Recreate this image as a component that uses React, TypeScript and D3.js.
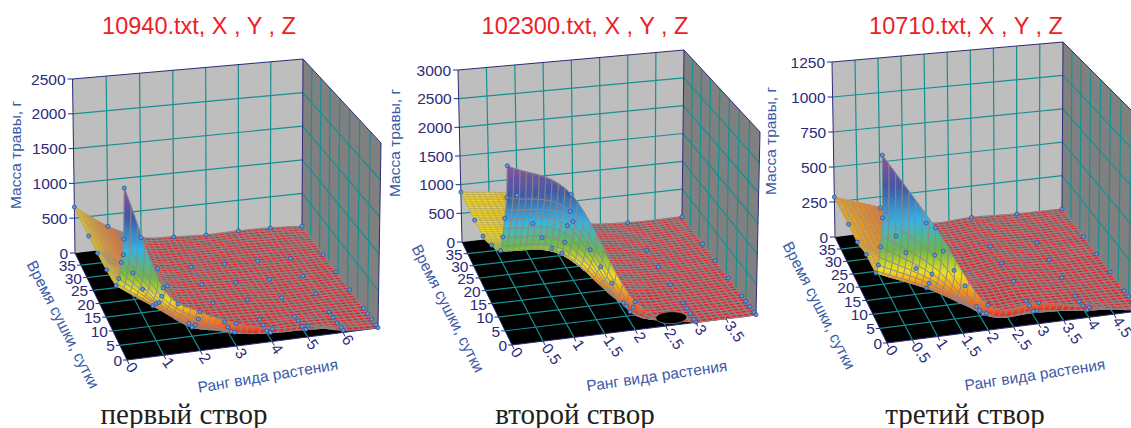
import React, { useRef, useEffect } from "react";
import * as d3 from "d3";

// drying time rows of the measured lattice, days
const dryingDays = [0, 1, 3, 5, 7, 14, 21, 28, 40];
const dayTicks = [0, 5, 10, 15, 20, 25, 30, 35];

const ranks1 = [0, 1, 2, 3, 4, 5, 6, 7];
const ranks2 = [0, 1, 2, 3, 4];
const ranks3 = [0, 1, 2, 3, 4, 5];

const rankTicks1 = [0, 1, 2, 3, 4, 5, 6];
const rankTicks2 = [0, 0.5, 1, 1.5, 2, 2.5, 3, 3.5];
const rankTicks3 = [0, 0.5, 1, 1.5, 2, 2.5, 3, 3.5, 4, 4.5];

const massTicks1 = [0, 500, 1000, 1500, 2000, 2500];
const massTicks2 = [0, 500, 1000, 1500, 2000, 2500, 3000];
const massTicks3 = [0, 250, 500, 750, 1000, 1250];

// mass per drying row (same order as dryingDays), one value per rank
const mass1 = [
  [2240, 880, 510, 300, 170, 145, 30, 5],
  [1540, 735, 380, 145, 80, 65, 30, 5],
  [1165, 580, 225, 80, 30, 30, 15, 5],
  [880, 490, 120, 65, 30, 30, 15, 5],
  [715, 390, 95, 55, 30, 15, 15, 5],
  [675, 355, 100, 55, 40, 10, 10, 5],
  [655, 330, 95, 55, 30, 15, 5, 5],
  [650, 335, 85, 50, 40, 25, 10, 5],
  [660, 330, 115, 70, 45, 50, 40, 10],
];

const mass2 = [
  [2830, 2280, 450, 5, 5],
  [2290, 1970, 320, 8, 5],
  [1880, 1660, 160, 8, 5],
  [1500, 1310, 160, 8, 5],
  [1200, 1050, 130, 8, 5],
  [1000, 840, 150, 8, 5],
  [865, 730, 130, 8, 5],
  [855, 690, 130, 8, 5],
  [870, 710, 140, 8, 5],
];

const mass3 = [
  [1180, 690, 160, 135, 65, 5],
  [770, 500, 90, 65, 30, 5],
  [555, 345, 50, 25, 20, 5],
  [405, 250, 35, 25, 12, 5],
  [320, 185, 25, 20, 12, 5],
  [320, 190, 35, 25, 7, 5],
  [285, 175, 15, 25, 7, 5],
  [290, 170, 25, 20, 5, 5],
  [285, 170, 20, 20, 5, 0],
];

// spot of the second surface that falls below zero: rank, day, half widths
const dip2 = [2.67, 2.6, 0.25, 2.1];

const titles = ["10940.txt, X , Y , Z", "102300.txt, X , Y , Z", "10710.txt, X , Y , Z"];
const captions = ["первый створ", "второй створ", "третий створ"];
const massLabel = "Масса травы, г";
const dayLabel = "Время сушки, сутки";
const rankLabel = "Ранг вида растения";

const colorStops = [0, 0.05, 0.1, 0.2, 0.31, 0.45, 0.62, 0.82, 1];
const colorRamp = ["#e9202a", "#ea2228", "#f15a24", "#f7941d", "#f5e61e", "#6abd45", "#33b8e8", "#3c55a5", "#8a4f9e"];

const MESH = 40;
const DAY_MAX = 40;

type Pt = [number, number];

// box corners in page pixels + where the texts sit
const panels = [
  {
    ranks: ranks1, rankTicks: rankTicks1, massTicks: massTicks1, mass: mass1, rankMax: 7, massMax: 2500, peak: 2240,
    floor: { fl: [127, 360], fr: [378, 328], bl: [75, 253], br: [302, 227] },
    top: { fl: [124, 168], fr: [381, 143], bl: [72.5, 79], br: [303, 59] },
    title: [199, 34], caption: [184, 424], massAt: [17, 155], dayAt: [62, 325], dayAngle: 63, rankAt: [268, 377], rankAngle: -9.5, dip: null,
  },
  {
    ranks: ranks2, rankTicks: rankTicks2, massTicks: massTicks2, mass: mass2, rankMax: 4, massMax: 3000, peak: 2830,
    floor: { fl: [512, 345], fr: [756, 315], bl: [462, 242], br: [682, 217] },
    top: { fl: [507, 155], fr: [760, 132], bl: [458, 70], br: [684, 50] },
    title: [585, 34], caption: [575, 424], massAt: [396, 143], dayAt: [447, 309], dayAngle: 63, rankAt: [657, 377], rankAngle: -8.3, dip: dip2,
  },
  {
    ranks: ranks3, rankTicks: rankTicks3, massTicks: massTicks3, mass: mass3, rankMax: 5, massMax: 1250, peak: 1180,
    floor: { fl: [887, 343], fr: [1139, 311], bl: [835, 237], br: [1062, 209] },
    top: { fl: [882, 144], fr: [1143, 122], bl: [832, 62], br: [1063, 42] },
    title: [966, 34], caption: [965, 424], massAt: [772, 141], dayAt: [818, 306], dayAngle: 63, rankAt: [1035, 376], rankAngle: -8.7, dip: null,
  },
];

// unit square -> quad
const quadMap = (q: any) => {
  const [x0, y0] = q.fl, [x1, y1] = q.fr, [x2, y2] = q.br, [x3, y3] = q.bl;
  const dx1 = x1 - x2, dx2 = x3 - x2, sx = x0 - x1 + x2 - x3;
  const dy1 = y1 - y2, dy2 = y3 - y2, sy = y0 - y1 + y2 - y3;
  const det = dx1 * dy2 - dx2 * dy1;
  const g = (sx * dy2 - dx2 * sy) / det;
  const h = (dx1 * sy - sx * dy1) / det;
  const a = x1 - x0 + g * x1, b = x3 - x0 + h * x3;
  const d = y1 - y0 + g * y1, e = y3 - y0 + h * y3;
  return (u: number, v: number): Pt => {
    const w = g * u + h * v + 1;
    return [(a * u + b * v + x0) / w, (d * u + e * v + y0) / w];
  };
};

// cubic hermite through (xs, ys), monotone limits the slopes along the drying rows
const smooth = (xs: number[], ys: number[], monotone: boolean) => {
  const n = xs.length;
  const sec = d3.range(n - 1).map((i) => (ys[i + 1] - ys[i]) / (xs[i + 1] - xs[i]));
  const tan = xs.map((_, i) => {
    if (i === 0) return sec[0];
    if (i === n - 1) return sec[n - 2];
    if (monotone && sec[i - 1] * sec[i] <= 0) return 0;
    if (monotone) return (2 * sec[i - 1] * sec[i]) / (sec[i - 1] + sec[i]);
    return (ys[i + 1] - ys[i - 1]) / (xs[i + 1] - xs[i - 1]);
  });
  return (x: number) => {
    const i = Math.min(n - 2, Math.max(0, d3.bisectRight(xs, x) - 1));
    const h = xs[i + 1] - xs[i];
    const t = (x - xs[i]) / h;
    const t2 = t * t, t3 = t2 * t;
    return (2 * t3 - 3 * t2 + 1) * ys[i] + (t3 - 2 * t2 + t) * h * tan[i] + (-2 * t3 + 3 * t2) * ys[i + 1] + (t3 - t2) * h * tan[i + 1];
  };
};

const App = () => {
  const chartRef = useRef<SVGSVGElement>(null);

  useEffect(() => {
    const svg = d3.select(chartRef.current);
    svg.selectAll("*").remove();

    const sans = "'Liberation Sans', Arial, sans-serif";
    const navy = "#2b2a78";
    const teal = "#179092";
    const meshGrey = "#8d8787";
    const labelBlue = "#3c5aa6";

    panels.forEach((p, idx) => {
      const g = svg.append("g");
      const fx = d3.scaleLinear().domain([0, p.rankMax]).range([0, 1]);
      const fy = d3.scaleLinear().domain([0, DAY_MAX]).range([0, 1]);
      const fz = d3.scaleLinear().domain([0, p.massMax]).range([0, 1]);
      const onFloor = quadMap(p.floor);
      const onTop = quadMap(p.top);
      const project = (x: number, y: number, z: number): Pt => {
        const a = onFloor(fx(x), fy(y));
        const b = onTop(fx(x), fy(y));
        const w = fz(z);
        return [a[0] + (b[0] - a[0]) * w, a[1] + (b[1] - a[1]) * w];
      };
      const line = d3.line<Pt>();
      const poly = (pts: Pt[]) => line(pts) + "Z";
      const R = p.rankMax, D = DAY_MAX, M = p.massMax;

      // walls + floor
      g.append("path").attr("d", poly([project(0, D, 0), project(R, D, 0), project(R, D, M), project(0, D, M)])).attr("fill", "#bebebe");
      g.append("path").attr("d", poly([project(R, D, 0), project(R, 0, 0), project(R, 0, M), project(R, D, M)])).attr("fill", "#808080");
      g.append("path").attr("d", poly([project(0, 0, 0), project(R, 0, 0), project(R, D, 0), project(0, D, 0)])).attr("fill", "#000");

      const grid = (a: Pt, b: Pt) =>
        g.append("path").attr("d", line([a, b])).attr("stroke", teal).attr("stroke-width", 1.2).attr("fill", "none");
      p.rankTicks.filter((t) => t > 0).forEach((t) => {
        grid(project(t, 0, 0), project(t, D, 0));
        grid(project(t, D, 0), project(t, D, M));
      });
      dayTicks.filter((t) => t > 0).forEach((t) => {
        grid(project(0, t, 0), project(R, t, 0));
        grid(project(R, t, 0), project(R, t, M));
      });
      p.massTicks.filter((t) => t > 0 && t < M).forEach((t) => {
        grid(project(0, D, t), project(R, D, t));
        grid(project(R, D, t), project(R, 0, t));
      });

      // box edges
      const edge = (a: Pt, b: Pt) =>
        g.append("path").attr("d", line([a, b])).attr("stroke", navy).attr("stroke-width", 1).attr("fill", "none");
      edge(project(0, D, 0), project(0, D, M));
      edge(project(0, D, M), project(R, D, M));
      edge(project(R, D, M), project(R, 0, M));
      edge(project(R, 0, M), project(R, 0, 0));
      edge(project(R, D, 0), project(R, D, M));
      edge(project(0, 0, 0), project(R, 0, 0));
      edge(project(0, 0, 0), project(0, D, 0));

      // surface mesh
      const colorOf = d3.scaleLinear<string>().domain(colorStops.map((s) => s * p.peak)).range(colorRamp).interpolate(d3.interpolateRgb).clamp(true);
      const meshX = d3.range(MESH + 1).map((i) => (i * p.rankMax) / MESH);
      const meshY = d3.range(MESH + 1).map((j) => (j * DAY_MAX) / MESH);
      const rows = p.mass.map((row) => meshX.map(smooth(p.ranks, row, false)));
      const zMesh = meshX.map((_, i) => meshY.map(smooth(dryingDays, rows.map((r) => r[i]), true)).map((v) => Math.max(0, v)));
      const surface = g.append("g");
      for (let j = MESH - 1; j >= 0; j--) {
        for (let i = 0; i < MESH; i++) {
          const z = [zMesh[i][j], zMesh[i + 1][j], zMesh[i + 1][j + 1], zMesh[i][j + 1]];
          const x0 = meshX[i], x1 = meshX[i + 1], y0 = meshY[j], y1 = meshY[j + 1];
          // tall cells get split so the colour runs smoothly over them
          const extent = (d3.max(z) as number) - (d3.min(z) as number);
          const n = Math.min(10, Math.max(1, Math.ceil(extent / (0.025 * p.peak))));
          const zAt = (s: number, t: number) =>
            (1 - t) * ((1 - s) * z[0] + s * z[1]) + t * ((1 - s) * z[3] + s * z[2]);
          for (let b = n - 1; b >= 0; b--) {
            for (let a = 0; a < n; a++) {
              const s0 = a / n, s1 = (a + 1) / n, t0 = b / n, t1 = (b + 1) / n;
              const col = colorOf(zAt((s0 + s1) / 2, (t0 + t1) / 2));
              surface
                .append("path")
                .attr("d", poly([
                  project(x0 + (x1 - x0) * s0, y0 + (y1 - y0) * t0, zAt(s0, t0)),
                  project(x0 + (x1 - x0) * s1, y0 + (y1 - y0) * t0, zAt(s1, t0)),
                  project(x0 + (x1 - x0) * s1, y0 + (y1 - y0) * t1, zAt(s1, t1)),
                  project(x0 + (x1 - x0) * s0, y0 + (y1 - y0) * t1, zAt(s0, t1)),
                ]))
                .attr("fill", col)
                .attr("stroke", col)
                .attr("stroke-width", 0.4);
            }
          }
          const corners = [project(x0, y0, z[0]), project(x1, y0, z[1]), project(x1, y1, z[2]), project(x0, y1, z[3])];
          const tall = (d3.max(corners, (c) => c[1]) as number) - (d3.min(corners, (c) => c[1]) as number);
          const mean = d3.mean(z) as number;
          const dense = tall <= 6;
          // narrow cells higher up take some of their fill into the line, low red ones stay grey
          const warm = dense && mean > 0.12 * p.peak;
          surface
            .append("path")
            .attr("d", poly(corners))
            .attr("fill", "none")
            .attr("stroke", warm ? d3.interpolateRgb(meshGrey, colorOf(mean))(0.45) : meshGrey)
            .attr("stroke-opacity", 0.9)
            .attr("stroke-width", warm ? 1.1 : dense ? 1.35 : 1)
            .attr("stroke-linejoin", "round");
        }
      }

      // black hole where the surface drops under the floor
      if (p.dip) {
        const [dr, dd, rr, rd] = p.dip;
        const ring = d3.range(0, Math.PI * 2, 0.2).map((a): Pt => project(dr + rr * Math.cos(a), dd + rd * Math.sin(a), 0));
        g.append("path").attr("d", poly(ring)).attr("fill", "#000").attr("stroke", meshGrey).attr("stroke-width", 0.8);
      }

      // measured points
      p.mass.forEach((row, j) =>
        row.forEach((z, i) => {
          const [cx, cy] = project(p.ranks[i], dryingDays[j], z);
          g.append("circle").attr("cx", cx).attr("cy", cy).attr("r", 2).attr("fill", "#5b9bd8").attr("stroke", "#2f4c9c").attr("stroke-width", 0.8);
        })
      );

      // mass axis
      p.massTicks.forEach((t) => {
        const [x, y] = project(0, D, t);
        g.append("line").attr("x1", x - 5).attr("x2", x).attr("y1", y).attr("y2", y).attr("stroke", navy);
        g.append("text").attr("x", x - 7).attr("y", y + 5.5).attr("text-anchor", "end").attr("font-family", sans).attr("font-size", 15.5).attr("fill", navy).text(t);
      });
      // drying axis
      dayTicks.forEach((t) => {
        const [x, y] = project(0, t, 0);
        g.append("line").attr("x1", x - 4).attr("x2", x).attr("y1", y).attr("y2", y).attr("stroke", navy);
        g.append("text").attr("x", x - 5).attr("y", y + 6).attr("text-anchor", "end").attr("font-family", sans).attr("font-size", 15.5).attr("fill", navy).text(t);
      });
      // rank axis
      p.rankTicks.forEach((t) => {
        const [x, y] = project(t, 0, 0);
        g.append("line").attr("x1", x).attr("x2", x + 2).attr("y1", y).attr("y2", y + 4).attr("stroke", navy);
        g.append("text").attr("transform", `translate(${x - 2},${y + 7}) rotate(55)`).attr("font-family", sans).attr("font-size", 15.5).attr("fill", navy).text(t);
      });

      const label = (text: string, at: number[], angle: number, size: number, fill: string, family = sans) =>
        g.append("text").attr("transform", `translate(${at[0]},${at[1]}) rotate(${angle})`).attr("text-anchor", "middle").attr("dominant-baseline", "middle").attr("font-family", family).attr("font-size", size).attr("fill", fill).text(text);

      label(massLabel, p.massAt, -90, 15.5, labelBlue);
      label(dayLabel, p.dayAt, p.dayAngle, 15.5, labelBlue);
      label(rankLabel, p.rankAt, p.rankAngle, 15.5, labelBlue);

      g.append("text").attr("x", p.title[0]).attr("y", p.title[1]).attr("text-anchor", "middle").attr("font-family", sans).attr("font-size", 23.5).attr("fill", "#ee2026").text(titles[idx]);
      g.append("text").attr("x", p.caption[0]).attr("y", p.caption[1]).attr("text-anchor", "middle").attr("font-family", "'Liberation Serif', serif").attr("font-size", 29).attr("fill", "#231f20").text(captions[idx]);
    });
  }, []);

  return <svg ref={chartRef} width={1131} height={428} style={{ position: "absolute", left: 0, top: 0, background: "#fff" }}></svg>;
};

export default App;
